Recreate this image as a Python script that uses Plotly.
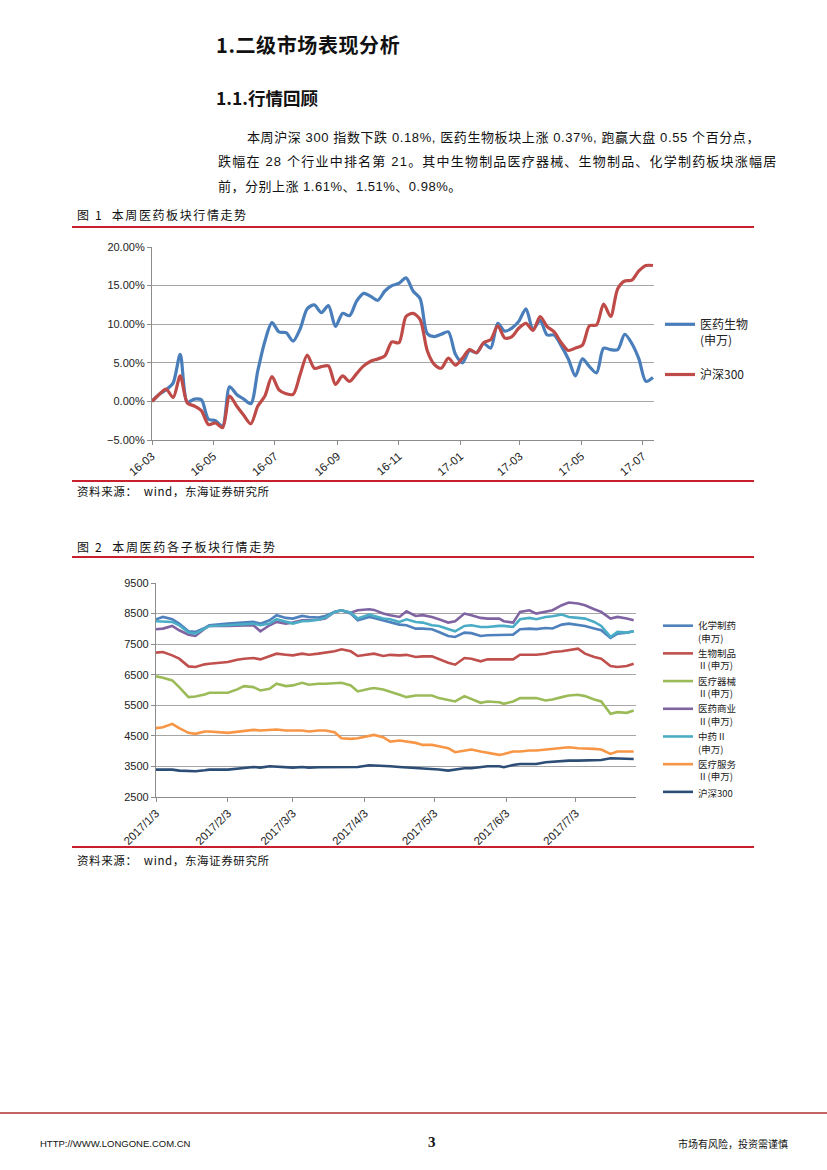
import pandas as pd
import plotly.graph_objects as go

W, H = 827, 1170

# ---- figure 1: weekly cumulative change (%), from 2016-03-01
fig1_start = "2016-03-01"
fig1_weeks = 72
yiyao_shengwu = [0, 0.9, 1.5, 2.4, 6.1, -0.1, 0.3, 0.2, -2.3, -2.5,
                 -3.2, 1.9, 0.9, 0.3, -0.3, 4.0, 7.8, 10.2, 9.0, 8.9,
                 7.8, 9.4, 12.0, 12.5, 11.5, 12.4, 9.7, 11.4, 11.1, 13.0,
                 14.0, 13.6, 13.1, 14.3, 15.0, 15.3, 16.0, 14.3, 13.3, 8.8,
                 8.4, 8.7, 9.0, 6.1, 5.0, 6.6, 6.3, 7.5, 6.9, 10.1,
                 9.1, 9.5, 10.4, 12.0, 9.3, 10.5, 8.6, 8.6, 7.2, 5.5,
                 3.3, 5.5, 4.5, 3.7, 6.9, 6.7, 6.7, 8.7, 7.5, 5.5,
                 2.6, 3.1]
hs300_pct = [0, 0.9, 1.6, 0.5, 3.3, -0.2, -0.6, -1.2, -3.0, -2.8,
             -3.4, 0.7, -0.6, -1.8, -2.9, -0.6, 0.7, 3.2, 1.5, 1.0,
             0.9, 3.5, 6.0, 4.3, 4.5, 4.6, 2.2, 3.3, 2.6, 3.6,
             4.6, 5.2, 5.5, 5.9, 7.7, 7.6, 11.0, 11.4, 10.6, 6.6,
             4.8, 4.3, 5.6, 4.7, 5.6, 6.7, 6.3, 7.6, 8.0, 9.8,
             8.2, 8.4, 9.5, 10.1, 9.2, 11.0, 9.7, 9.0, 7.6, 6.6,
             6.9, 7.3, 9.8, 9.9, 12.6, 11.0, 14.6, 15.6, 15.7, 16.9,
             17.6, 17.6]
fig1_dates = pd.date_range(fig1_start, periods=fig1_weeks, freq="7D")

# ---- figure 2: sub-sector index levels, 2017
fig2_dates = ["2017-01-03", "2017-01-06", "2017-01-10", "2017-01-13", "2017-01-17",
              "2017-01-20", "2017-01-24", "2017-01-26", "2017-02-03", "2017-02-07",
              "2017-02-10", "2017-02-14", "2017-02-17", "2017-02-21", "2017-02-24",
              "2017-02-28", "2017-03-03", "2017-03-07", "2017-03-10", "2017-03-14",
              "2017-03-17", "2017-03-21", "2017-03-24", "2017-03-28", "2017-03-31",
              "2017-04-05", "2017-04-07", "2017-04-11", "2017-04-14", "2017-04-18",
              "2017-04-21", "2017-04-25", "2017-04-28", "2017-05-02", "2017-05-05",
              "2017-05-09", "2017-05-12", "2017-05-16", "2017-05-19", "2017-05-23",
              "2017-05-26", "2017-05-31", "2017-06-02", "2017-06-06", "2017-06-09",
              "2017-06-13", "2017-06-16", "2017-06-20", "2017-06-23", "2017-06-27",
              "2017-06-30", "2017-07-04", "2017-07-07", "2017-07-11", "2017-07-14",
              "2017-07-18", "2017-07-21", "2017-07-25", "2017-07-28"]
huaxue_zhiyao = [8314, 8390, 8314, 8172, 7920, 7900, 8030, 8117, 8172, 8194,
                 8205, 8227, 8172, 8281, 8445, 8358, 8336, 8423, 8390,
                 8370, 8423, 8555, 8609, 8500, 8281, 8390, 8358, 8281, 8227,
                 8139, 8117, 8008, 8008, 7986, 7899, 7768, 7735, 7877, 7860,
                 7768, 7790, 7790, 7811, 7811, 7986, 8008, 7990, 8030, 8010,
                 8139, 8172, 8139, 8096, 8008, 7953, 7702, 7844, 7877, 7920]
shengwu_zhipin = [7221, 7243, 7134, 7024, 6773, 6751, 6839, 6861, 6915, 6992,
                  7024, 7046, 7002, 7101, 7188, 7155, 7134, 7188, 7155,
                  7190, 7221, 7265, 7330, 7265, 7112, 7155, 7188, 7112, 7150,
                  7134, 7150, 7079, 7100, 7100, 7002, 6893, 6828, 7046, 7024,
                  6937, 7002, 7002, 7002, 7002, 7155, 7155, 7155, 7188, 7243,
                  7265, 7298, 7352, 7188, 7079, 7024, 6784, 6751, 6784, 6861]
yiliao_qixie = [6445, 6400, 6313, 6095, 5767, 5789, 5855, 5910, 5910, 6019,
                6128, 6095, 5986, 6041, 6205, 6128, 6150, 6237, 6172,
                6205, 6205, 6237, 6237, 6150, 5953, 6041, 6063, 6019, 5953,
                5844, 5767, 5822, 5822, 5822, 5735, 5658, 5625, 5800, 5713,
                5582, 5625, 5600, 5549, 5625, 5735, 5735, 5735, 5658, 5690,
                5767, 5822, 5844, 5800, 5691, 5625, 5221, 5276, 5254, 5330]
yiyao_shangye = [7986, 8008, 8096, 7953, 7811, 7768, 8008, 8096, 8096, 8096,
                 8096, 8117, 7920, 8117, 8227, 8172, 8205, 8281, 8290,
                 8300, 8340, 8555, 8609, 8530, 8609, 8642, 8620, 8500, 8445,
                 8390, 8576, 8423, 8450, 8390, 8314, 8205, 8250, 8500, 8445,
                 8358, 8336, 8336, 8250, 8205, 8555, 8609, 8500, 8576, 8609,
                 8773, 8860, 8828, 8773, 8642, 8555, 8336, 8390, 8336, 8281]
zhongyao = [8250, 8240, 8227, 8117, 7877, 7844, 8008, 8096, 8117, 8128,
            8139, 8172, 8117, 8172, 8314, 8227, 8172, 8250, 8260,
            8300, 8358, 8555, 8609, 8530, 8336, 8467, 8420, 8336, 8314,
            8227, 8314, 8227, 8205, 8117, 8096, 8008, 7920, 8096, 8117,
            8063, 8063, 8096, 8096, 8063, 8314, 8358, 8314, 8390, 8410,
            8467, 8390, 8358, 8336, 8227, 8096, 7735, 7899, 7877, 7920]
yiliao_fuwu = [4751, 4780, 4893, 4751, 4598, 4565, 4642, 4642, 4598, 4642,
               4675, 4696, 4675, 4696, 4707, 4675, 4685, 4675, 4642,
               4675, 4675, 4620, 4423, 4401, 4423, 4489, 4532, 4456, 4314,
               4347, 4314, 4270, 4205, 4205, 4161, 4096, 3964, 4019, 4052,
               3986, 3942, 3877, 3909, 3986, 3986, 4019, 4019, 4052, 4074,
               4096, 4128, 4096, 4096, 4074, 4052, 3909, 3986, 3986, 3986]
hs300_level = [3396, 3396, 3396, 3363, 3341, 3341, 3374, 3396, 3396, 3439,
               3450, 3483, 3461, 3505, 3494, 3461, 3461, 3483, 3461,
               3472, 3472, 3494, 3472, 3483, 3483, 3537, 3530, 3537, 3505,
               3483, 3472, 3439, 3439, 3418, 3400, 3363, 3396, 3439, 3439,
               3472, 3505, 3505, 3472, 3548, 3581, 3581, 3581, 3636, 3658,
               3690, 3690, 3690, 3690, 3712, 3712, 3767, 3767, 3745, 3745]

fig2_series = [
    ("化学制药<br>(申万)", huaxue_zhiyao, "#4F81BD"),
    ("生物制品<br>Ⅱ(申万)", shengwu_zhipin, "#C0504D"),
    ("医疗器械<br>Ⅱ(申万)", yiliao_qixie, "#9BBB59"),
    ("医药商业<br>Ⅱ(申万)", yiyao_shangye, "#8064A2"),
    ("中药Ⅱ<br>(申万)", zhongyao, "#4BACC6"),
    ("医疗服务<br>Ⅱ(申万)", yiliao_fuwu, "#F79646"),
    ("沪深300", hs300_level, "#2C4D75"),
]


def px(x):
    return x / W


def py(y):
    return 1 - y / H


SANS = "Liberation Sans, Noto Sans CJK SC, sans-serif"
CJK = "Noto Sans CJK SC, Liberation Sans, sans-serif"
RED = "#C8202D"
GRID = "#A6A6A6"
AXIS = "#8C8C8C"

fig = go.Figure()

fig.add_trace(go.Scatter(x=fig1_dates, y=yiyao_shengwu, name="医药生物<br>(申万)",
                         mode="lines", line=dict(color="#4A7EBB", width=3.2,
                                                 shape="spline", smoothing=0.8),
                         xaxis="x", yaxis="y", legend="legend", legendgroup="a"))
fig.add_trace(go.Scatter(x=fig1_dates, y=hs300_pct, name="沪深300",
                         mode="lines", line=dict(color="#BE4B48", width=3.2,
                                                 shape="spline", smoothing=0.8),
                         xaxis="x", yaxis="y", legend="legend", legendgroup="b"))

for name, vals, color in fig2_series:
    fig.add_trace(go.Scatter(x=fig2_dates, y=vals, name=name, mode="lines",
                             line=dict(color=color, width=2.6),
                             xaxis="x2", yaxis="y2", legend="legend2"))

tickfont = dict(family=SANS, size=11, color="#222")

fig.update_layout(
    width=W, height=H, autosize=False,
    margin=dict(l=0, r=0, t=0, b=0, pad=0, autoexpand=False),
    paper_bgcolor="white", plot_bgcolor="white",
    showlegend=True,
    xaxis=dict(domain=[px(152), px(654)], anchor="y", type="date",
               range=["2016-03-01", "2017-07-12"], tick0="2016-03-01", dtick="M2",
               tickformat="%y-%m", tickangle=-40,
               tickfont=dict(family=SANS, size=11.5, color="#222"),
               showgrid=False, showline=True, linecolor=AXIS, linewidth=1.2,
               ticks="outside", ticklen=4, tickcolor=AXIS),
    yaxis=dict(domain=[py(440), py(247)], anchor="x", range=[-5, 20], dtick=5,
               tickformat=".2f", ticksuffix="%", tickfont=tickfont,
               showgrid=True, gridcolor=GRID, gridwidth=1.3, zeroline=False,
               showline=True, linecolor=AXIS, linewidth=1.2,
               ticks="outside", ticklen=4, tickcolor=AXIS),
    xaxis2=dict(domain=[px(156), px(636)], anchor="y2", type="date",
                range=["2017-01-03", "2017-07-29"], tick0="2017-01-03", dtick="M1",
                tickformat="%Y/%-m/%-d", tickangle=-45,
                tickfont=dict(family=SANS, size=11.5, color="#222"),
                showgrid=False, showline=True, linecolor=AXIS, linewidth=1.2,
                ticks="outside", ticklen=4, tickcolor=AXIS),
    yaxis2=dict(domain=[py(797), py(583)], anchor="x2", range=[2500, 9500],
                tick0=2500, dtick=1000, tickformat="d", tickfont=tickfont,
                showgrid=True, gridcolor=GRID, gridwidth=1.3, zeroline=False,
                showline=True, linecolor=AXIS, linewidth=1.2,
                ticks="outside", ticklen=4, tickcolor=AXIS),
    legend=dict(x=px(660), y=py(310), xanchor="left", yanchor="top",
                font=dict(family=CJK, size=12, color="#222"), valign="top",
                tracegroupgap=16, itemclick=False, bgcolor="rgba(0,0,0,0)"),
    legend2=dict(x=px(658), y=py(613), xanchor="left", yanchor="top",
                 font=dict(family=CJK, size=9.5, color="#222"), valign="top",
                 tracegroupgap=0, itemclick=False, bgcolor="rgba(0,0,0,0)"),
)

shapes = []
for yline in (227, 481, 557, 847):
    shapes.append(dict(type="line", xref="paper", yref="paper",
                       x0=px(72), x1=px(754), y0=py(yline), y1=py(yline),
                       line=dict(color=RED, width=2)))
shapes.append(dict(type="line", xref="paper", yref="paper",
                   x0=0, x1=1, y0=py(1113), y1=py(1113),
                   line=dict(color="#B03030", width=1.5)))
fig.update_layout(shapes=shapes)


def note(text, x, y, size, family=CJK, anchor="left", color="#111", spacing=0):
    if spacing:
        text = "<span style='letter-spacing:%spx'>%s</span>" % (spacing, text)
    fig.add_annotation(text=text, x=px(x), y=py(y), xref="paper", yref="paper",
                       xanchor=anchor, yanchor="middle", showarrow=False,
                       font=dict(family=family, size=size, color=color))


note("<b>1.二级市场表现分析</b>", 214, 45, 20, spacing=0.6)
note("<b>1.1.行情回顾</b>", 214, 97, 17.5)
note("本周沪深 300 指数下跌 0.18%, 医药生物板块上涨 0.37%, 跑赢大盘 0.55 个百分点，",
     245, 137, 13, family=SANS, spacing=0.6)
note("跌幅在 28 个行业中排名第 21。其中生物制品医疗器械、生物制品、化学制药板块涨幅居",
     216, 162, 13, family=SANS, spacing=1.2)
note("前，分别上涨 1.61%、1.51%、0.98%。", 216, 186, 13, family=SANS, spacing=0.5)
note("图 1  本周医药板块行情走势", 75, 214, 12, spacing=1.6)
note("资料来源：  wind，东海证券研究所", 75, 491, 11.5, spacing=0.6)
note("图 2  本周医药各子板块行情走势", 75, 546, 12, spacing=1.7)
note("资料来源：  wind，东海证券研究所", 75, 860, 11.5, spacing=0.6)
note("HTTP://WWW.LONGONE.COM.CN", 38, 1143, 9.5, family=SANS)
note("<b>3</b>", 432, 1142, 15, family="Liberation Serif", anchor="center")
note("市场有风险，投资需谨慎", 790, 1143, 10, anchor="right")

page_css = ("var s=document.createElement('style');"
            "s.textContent='html,body{margin:0;padding:0;overflow:hidden;}';"
            "document.head.appendChild(s);")
fig.write_html("out.html",
               config={"responsive": False, "displayModeBar": False},
               post_script=page_css)
